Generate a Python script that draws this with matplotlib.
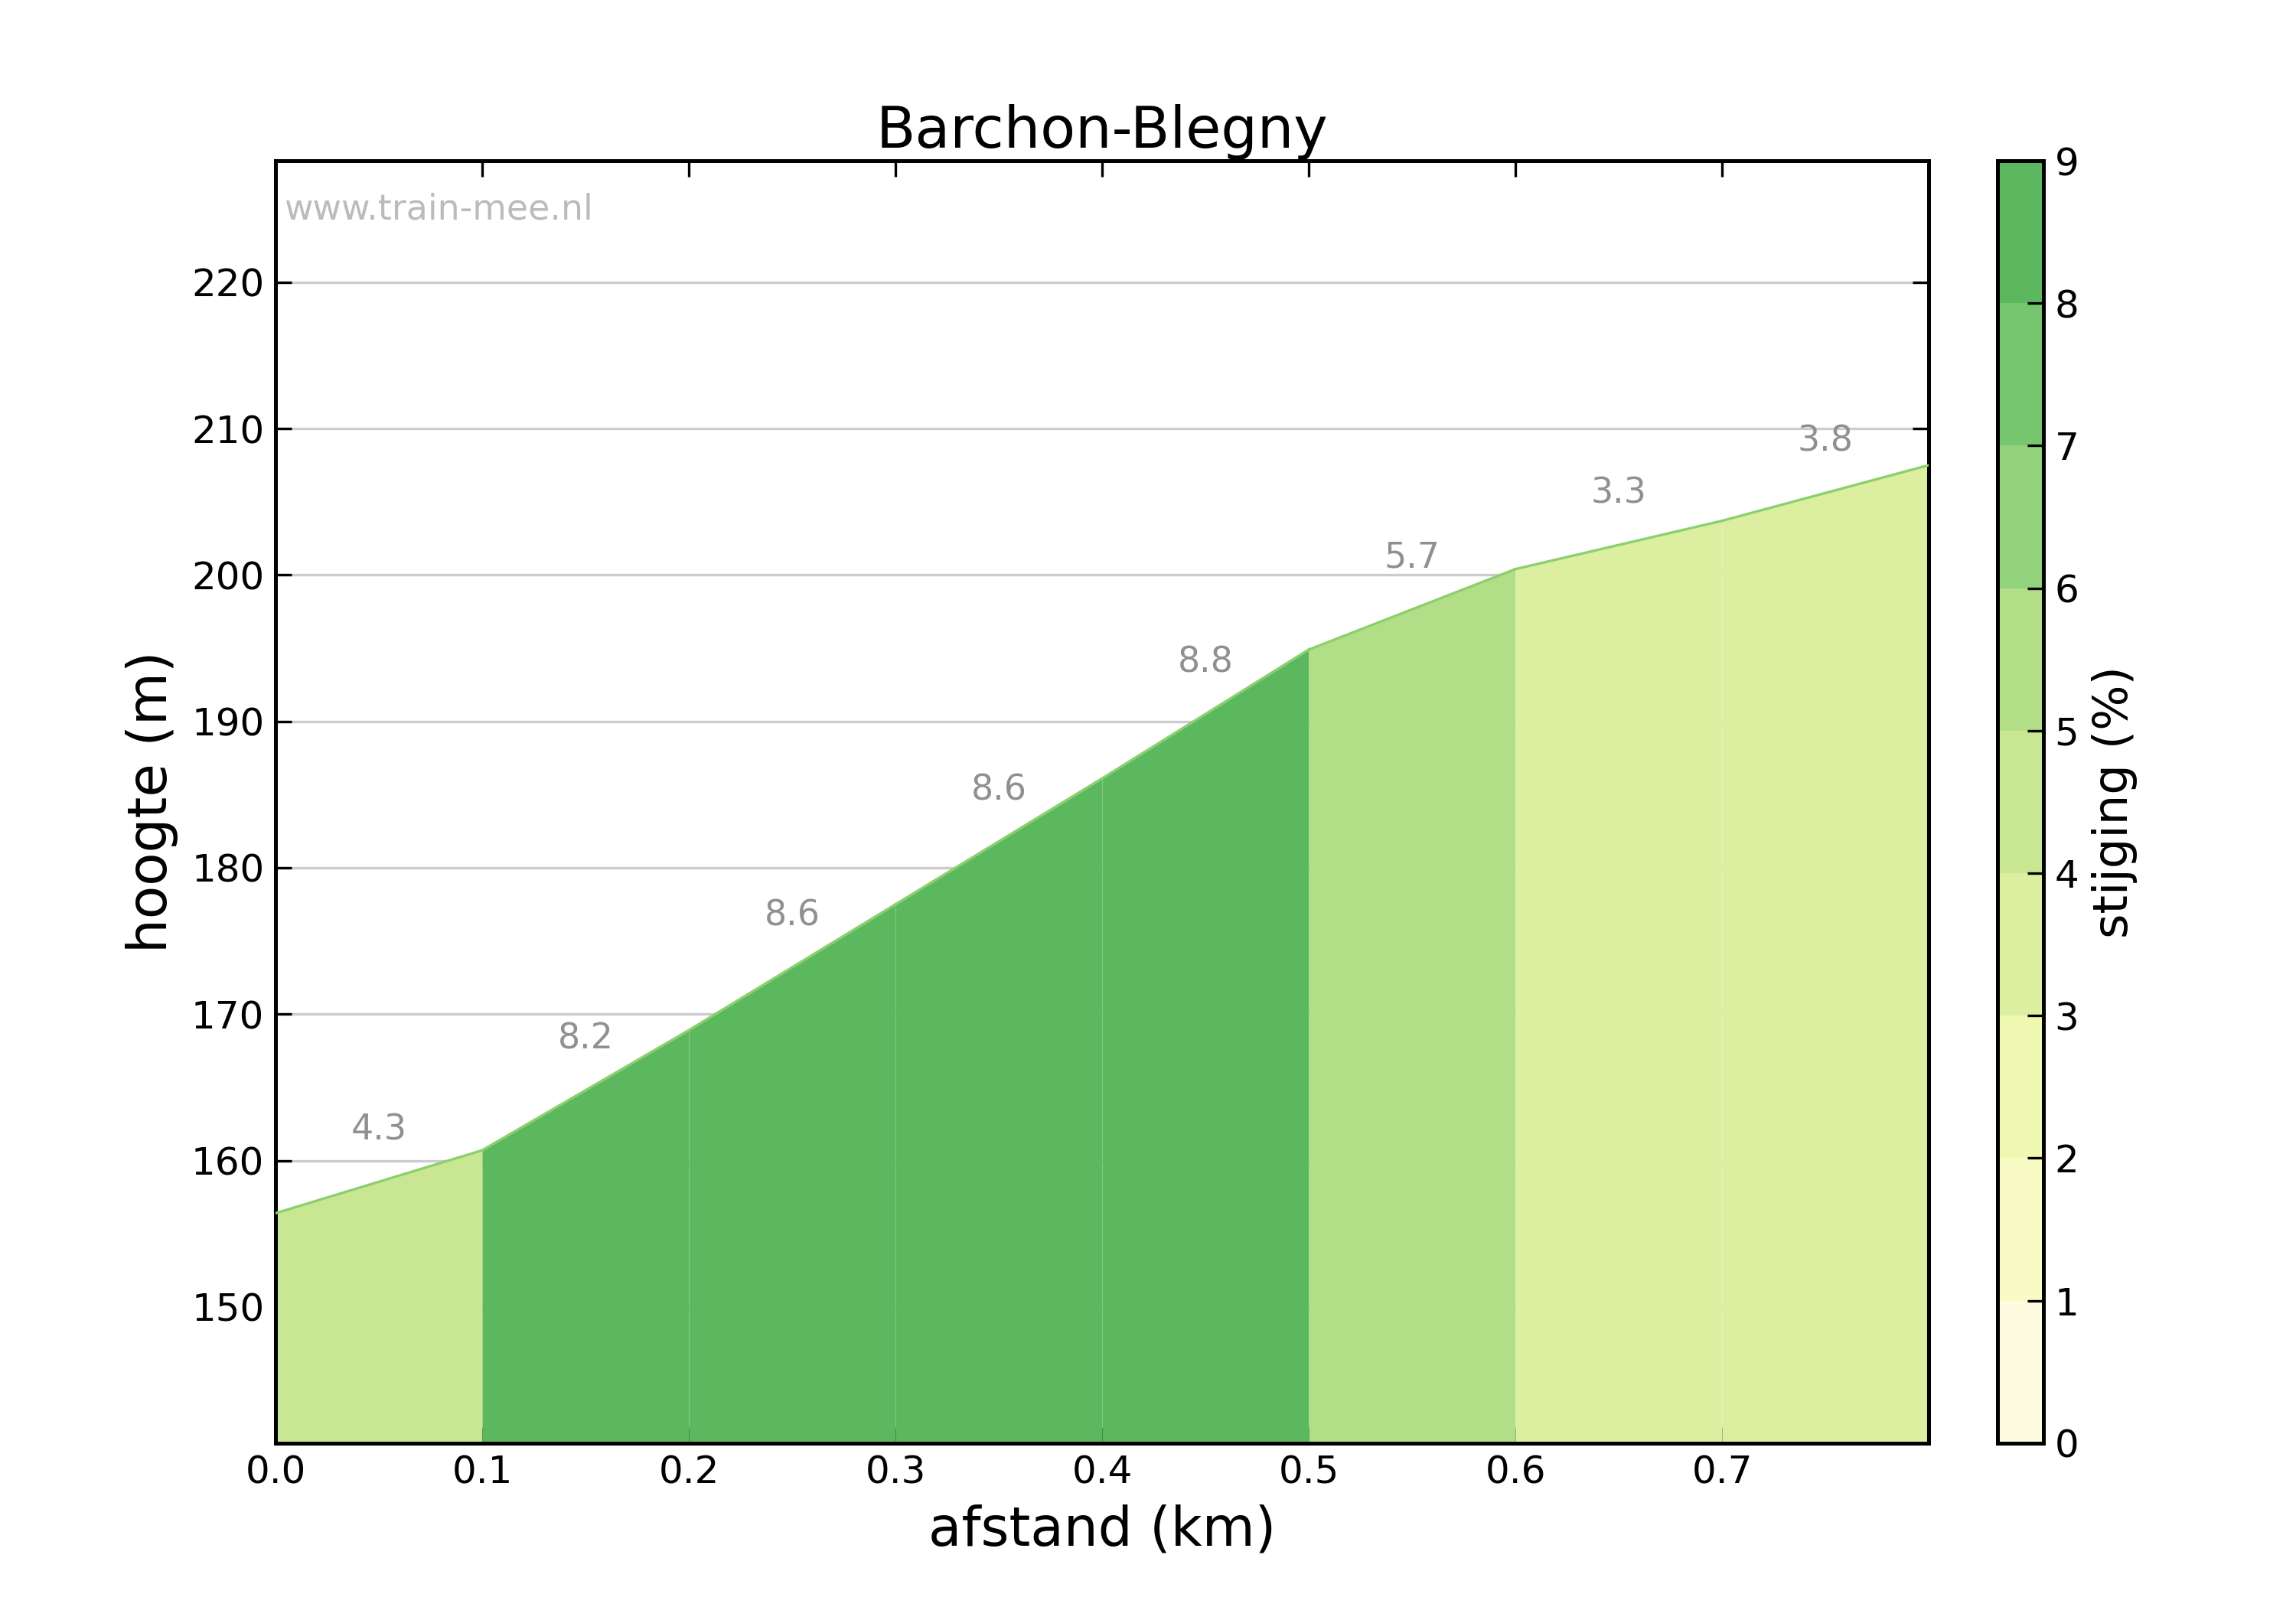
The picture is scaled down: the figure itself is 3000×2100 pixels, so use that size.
import numpy as np
import matplotlib.pyplot as plt
from matplotlib.colors import ListedColormap, BoundaryNorm
import matplotlib as mpl

# profile data
dist = [0.0, 0.1, 0.2, 0.3, 0.4, 0.5, 0.6, 0.7, 0.8]
elev = [156.4, 160.7, 168.9, 177.5, 186.1, 194.9, 200.4, 203.7, 207.5]
grade = [4.3, 8.2, 8.6, 8.6, 8.8, 5.7, 3.3, 3.8]
# colour class used for the filled blocks
fill_class = [4, 8, 8, 8, 8, 5, 3, 3]

colors = ['#fefbe0', '#f8fcc4', '#eff8b0', '#dcefa0', '#c9e793',
          '#b3de88', '#92d27a', '#75c66f', '#5cb85f']
cmap = ListedColormap(colors)
norm = BoundaryNorm(np.arange(0, 10), cmap.N)

fig = plt.figure(figsize=(10, 7), dpi=300)
ax = fig.add_axes([0.12, 0.102, 0.72, 0.798])
cax = fig.add_axes([0.870, 0.102, 0.020, 0.798])

ymin, ymax = 140.7, 228.3
for i in range(len(grade)):
    xs = [dist[i], dist[i + 1]]
    ys = [elev[i], elev[i + 1]]
    ax.fill_between(xs, ymin, ys, color=colors[fill_class[i]], linewidth=0, zorder=2)
    ax.plot(xs, ys, color='#8ccf6e', linewidth=0.8, zorder=3)
    xm = (dist[i] + dist[i + 1]) / 2
    ym = (elev[i] + elev[i + 1]) / 2
    ax.text(xm, ym + 3.5, f"{grade[i]}", ha='center', va='center',
            color='#909090', fontsize=11, zorder=4)

ax.set_xlim(0, 0.8)
ax.set_ylim(ymin, ymax)
ax.set_xticks(np.arange(0, 0.8, 0.1))
ax.set_yticks(np.arange(150, 221, 10))
ax.yaxis.grid(True, color='#cccccc', linewidth=0.8, zorder=1)
ax.set_axisbelow(True)
ax.tick_params(direction='in', top=True, right=True, labelsize=12, length=5)
for s in ax.spines.values():
    s.set_linewidth(1.2)
ax.set_xlabel('afstand (km)', fontsize=17)
ax.set_ylabel('hoogte (m)', fontsize=17)
ax.set_title('Barchon-Blegny', fontsize=18, pad=4)
ax.text(0.005, 0.962, 'www.train-mee.nl', transform=ax.transAxes,
        color='#bbbbbb', fontsize=11, va='center')

cb = mpl.colorbar.ColorbarBase(cax, cmap=cmap, norm=norm, ticks=range(0, 10))
cb.ax.tick_params(labelsize=12, direction='in', length=5)
cb.outline.set_linewidth(1.2)
cb.set_label('stijging (%)', fontsize=15)

fig.savefig('out.png', dpi=300)
